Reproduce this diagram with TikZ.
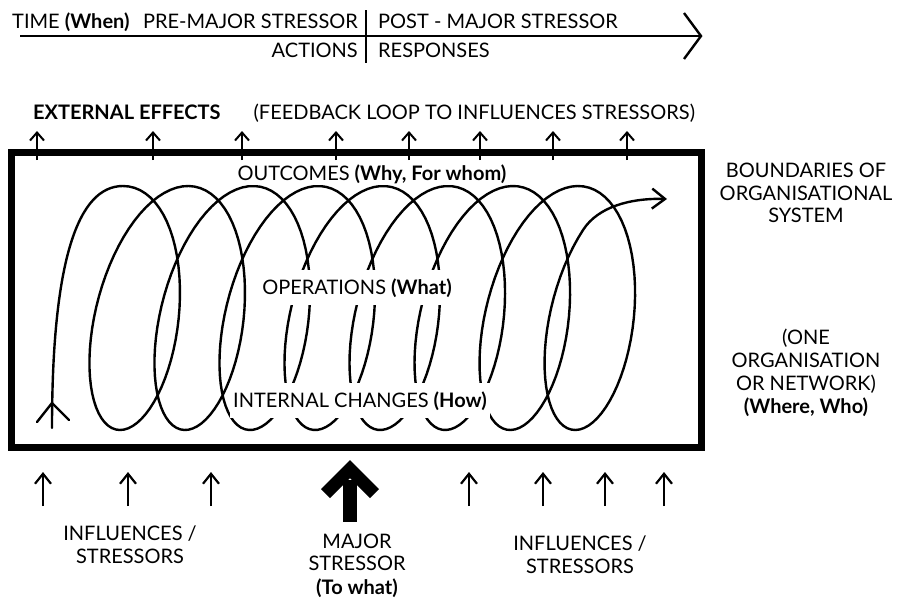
\documentclass[tikz,border=0pt]{standalone}
\usepackage{fontspec}
\setmainfont{Lato}
\usetikzlibrary{arrows.meta}
\begin{document}
\begin{tikzpicture}[x=1pt,y=-1pt,
  lbl/.style={font=\fontsize{20}{24}\selectfont, inner sep=0pt, text=black},
  cut/.style={lbl, fill=white, inner xsep=3pt, inner ysep=6pt},
  coil/.style={line width=2.4pt, line join=round, line cap=round},
  tline/.style={line width=2.4pt},
  frame/.style={line width=7pt},
  uparrow/.style={line width=2pt, -{Straight Barb[length=8pt,width=14pt]}},
  botarrow/.style={line width=2.2pt, -{Straight Barb[length=10pt,width=16pt]}}]
\useasboundingbox (0,0) rectangle (897,600);

% ---- time line ----
\coordinate (t0) at (20,36);
\coordinate (t1) at (701,36);
\coordinate (tw1) at (684,13);
\coordinate (tw2) at (684,59);
\coordinate (d0) at (366,10);
\coordinate (d1) at (366,63);
\draw[tline] (t0) -- (t1);
\draw[tline, line join=miter] (tw1) -- (t1) -- (tw2);
\draw[line width=2pt] (d0) -- (d1);
\node[lbl, anchor=base west] (time) at (12,28) {TIME \textbf{(When)}};
\node[lbl, anchor=base east] (pre) at (358,28) {PRE-MAJOR STRESSOR};
\node[lbl, anchor=base west] (post) at (378,28) {POST - MAJOR STRESSOR};
\node[lbl, anchor=base east] (act) at (358,57) {ACTIONS};
\node[lbl, anchor=base west] (resp) at (378,57) {RESPONSES};

% ---- external effects ----
\node[lbl, anchor=base west] (ext) at (33,119) {\textbf{EXTERNAL EFFECTS}};
\node[lbl, anchor=base east] (fb) at (695,119) {(FEEDBACK LOOP TO INFLUENCES STRESSORS)};
\foreach \i/\xx in {1/37,2/153,3/242,4/336,5/409,6/480,7/553,8/627}{
  \coordinate (ua\i) at (\xx,160);
  \coordinate (ub\i) at (\xx,131);
  \draw[uparrow] (ua\i) -- (ub\i);
}

% ---- coil ----
\coordinate (cs) at (52,428);
\coordinate (ce) at (667,199);
\draw[coil, -{Straight Barb[length=13pt,width=20pt]}] (cs)
  .. controls (52,260) and (78,186) .. (123,186)
  -- plot[domain=90:2920, samples=566]
     ({89 + 0.1806*\x - 58*cos(\x) + 17.7*sin(\x)}, {308 - 122*sin(\x)})
  .. controls (598,207) and (630,198) .. (ce);
\coordinate (sa1) at (37,422);
\coordinate (sa2) at (52,403);
\coordinate (sa3) at (69,420);
\draw[coil] (sa1) -- (sa2) -- (sa3);

% ---- frame ----
\draw[frame] (11,152) rectangle (701,447);

% ---- inner labels ----
\node[cut, anchor=base, inner ysep=2pt] (out) at (372,180) {OUTCOMES \textbf{(Why, For whom)}};
\node[cut, anchor=base, inner ysep=8pt] (ops) at (357,294) {OPERATIONS \textbf{(What)}};
\node[cut, anchor=base, inner ysep=8pt] (ich) at (360,407) {INTERNAL CHANGES \textbf{(How)}};

% ---- right labels ----
\node[lbl, anchor=base] (b1) at (806,177) {BOUNDARIES OF};
\node[lbl, anchor=base] (b2) at (806,200) {ORGANISATIONAL};
\node[lbl, anchor=base] (b3) at (806,222) {SYSTEM};
\node[lbl, anchor=base] (o1) at (806,344) {(ONE};
\node[lbl, anchor=base] (o2) at (806,367) {ORGANISATION};
\node[lbl, anchor=base] (o3) at (806,390) {OR NETWORK)};
\node[lbl, anchor=base] (o4) at (806,413) {\textbf{(Where, Who)}};

% ---- bottom arrows ----
\foreach \i/\xx in {1/43,2/128,3/211,4/469,5/543,6/605,7/664}{
  \coordinate (ba\i) at (\xx,506);
  \coordinate (bb\i) at (\xx,472);
  \draw[botarrow] (ba\i) -- (bb\i);
}
\fill (343,522) -- (343,480) -- (357,480) -- (357,522) -- cycle;
\fill (350,460) -- (379,489) -- (370,498) -- (350,478) -- (330,498) -- (321,489) -- cycle;

% ---- bottom labels ----
\node[lbl, anchor=base] (l1) at (130,540) {INFLUENCES /};
\node[lbl, anchor=base] (l2) at (130,563) {STRESSORS};
\node[lbl, anchor=base] (m1) at (357,548) {MAJOR};
\node[lbl, anchor=base] (m2) at (357,570) {STRESSOR};
\node[lbl, anchor=base] (m3) at (357,594) {\textbf{(To what)}};
\node[lbl, anchor=base] (r1) at (580,550) {INFLUENCES /};
\node[lbl, anchor=base] (r2) at (580,573) {STRESSORS};
\end{tikzpicture}
\end{document}
